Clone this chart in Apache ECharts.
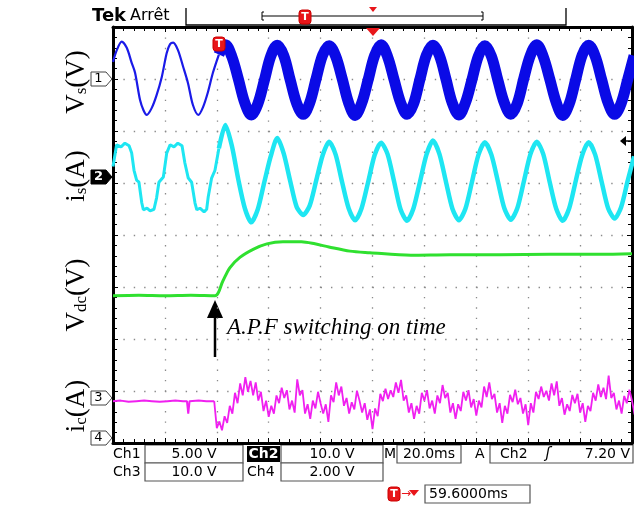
<!DOCTYPE html>
<html><head><meta charset="utf-8">
<script src="https://cdn.jsdelivr.net/npm/echarts@6/dist/echarts.min.js"></script>
<style>html,body{margin:0;padding:0;background:#fff}#c{width:640px;height:507px}</style>
</head><body><div id="c"></div>
<script>
// ---- Data (time in ms, values in screen divisions relative to each channel's ground marker) ----
// Ch1: source voltage Vs, before A.P.F switching on
const vsPreT = [0, 1.5, 3.35, 5.3, 7.2, 8.5, 10.4, 11.75, 13.0, 14.9, 16.8, 18.8, 20.7, 22.0, 23.2, 25.0, 27.0, 28.9, 30.8, 32.9, 34.7, 36.6, 38.5, 40.8];
const vsPreV = [0.33, 0.56, 0.72, 0.60, 0.31, 0.12, -0.40, -0.60, -0.69, -0.56, -0.31, 0.04, 0.50, 0.67, 0.70, 0.56, 0.24, -0.08, -0.50, -0.69, -0.54, -0.25, 0.12, 0.47];
// Ch1 after switching on (sampled every 2.5 ms from 40.8 ms)
const vsPostV = [0.47,
  0.66, 0.43, 0.00, -0.46, -0.69, -0.48, -0.03, 0.44,
  0.65, 0.45, -0.02, -0.47, -0.68, -0.46, 0.01, 0.46,
  0.64, 0.44, 0.01, -0.46, -0.70, -0.47, -0.02, 0.45,
  0.66, 0.43, -0.01, -0.45, -0.68, -0.48, 0.00, 0.46,
  0.65, 0.45, 0.00, -0.47, -0.69, -0.46, -0.02, 0.44,
  0.64, 0.44, -0.02, -0.46, -0.68, -0.47, 0.01, 0.45,
  0.66, 0.43, 0.00, -0.45, -0.70, -0.48, -0.01, 0.46,
  0.65, 0.44, -0.01, -0.46, -0.68, -0.47, -0.02, 0.45];
// Ch2: source current is
const isPreT = [0, 1.4, 3.1, 4.6, 6.2, 7.2, 8.1, 9.1, 10.0, 11.1, 11.7, 13.1, 14.3, 15.8, 16.8, 17.7, 19.4, 20.7, 22.0, 23.5, 25.0, 26.6, 27.7, 29.0, 30.3, 31.6, 32.3, 33.5, 35.1, 36.1, 36.7, 38.0, 39.3, 40.8];
const isPreV = [0.20, 0.62, 0.58, 0.65, 0.60, 0.46, 0.13, -0.06, -0.10, -0.50, -0.63, -0.60, -0.65, -0.62, -0.40, -0.10, 0.00, 0.46, 0.62, 0.58, 0.65, 0.60, 0.27, -0.02, -0.10, -0.50, -0.63, -0.60, -0.67, -0.62, -0.38, -0.02, 0.13, 0.55];
const isPostV = [0.55,
  1.00, 0.60, -0.05, -0.60, -0.87, -0.62, -0.10, 0.40,
  0.75, 0.45, -0.08, -0.58, -0.73, -0.55, -0.07, 0.42,
  0.68, 0.43, -0.10, -0.60, -0.83, -0.60, -0.10, 0.42,
  0.66, 0.44, -0.08, -0.62, -0.84, -0.60, -0.09, 0.43,
  0.70, 0.44, -0.09, -0.61, -0.83, -0.61, -0.10, 0.42,
  0.67, 0.43, -0.08, -0.60, -0.82, -0.60, -0.09, 0.43,
  0.68, 0.44, -0.10, -0.61, -0.84, -0.60, -0.08, 0.42,
  0.67, 0.43, -0.09, -0.60, -0.80, -0.58, -0.08, 0.40];
const postT0 = 40.8, postDt = 2.5;
// DC-link voltage Vdc
const vdcT = [0, 10, 20, 30, 39.3, 42.3, 45.0, 48.9, 54.2, 59.3, 65.5, 72.6, 77.8, 83.2, 91.3, 99.0, 114.8, 129.9, 149.1, 168.4, 187.7, 200];
const vdcV = [2.79, 2.80, 2.79, 2.80, 2.79, 3.07, 3.33, 3.53, 3.69, 3.79, 3.83, 3.83, 3.79, 3.73, 3.65, 3.62, 3.57, 3.58, 3.58, 3.59, 3.59, 3.60];
// Compensating current ic
const icPreT = [0, 3, 6, 9, 12, 15, 18, 21, 24, 27, 28.5, 29, 29.5, 33, 36, 39];
const icPreV = [-0.06, -0.05, -0.07, -0.06, -0.05, -0.06, -0.07, -0.06, -0.05, -0.06, -0.06, -0.30, -0.06, -0.05, -0.06, -0.06];
const icPostV = [-0.06,
 -0.58,-0.45,-0.62,-0.35,-0.48,-0.15,-0.30,0.10,-0.10,0.28,
 0.05,0.40,0.12,0.33,0.05,0.30,-0.05,0.12,-0.25,-0.05,
 -0.36,-0.15,-0.30,0.05,-0.10,0.20,0.00,0.15,-0.22,-0.05,
 -0.28,0.36,0.05,0.15,-0.30,-0.12,-0.40,-0.05,-0.20,0.12,
 -0.10,-0.30,-0.12,-0.46,0.05,-0.08,0.30,0.05,0.22,-0.15,
 0.00,-0.30,-0.08,-0.22,0.14,-0.05,-0.28,-0.10,-0.42,-0.22,
 -0.60,-0.20,-0.35,0.08,-0.06,0.18,-0.02,0.15,0.02,0.30,
 0.10,0.35,-0.05,0.05,-0.28,-0.10,-0.40,-0.15,-0.30,0.10,
 -0.05,0.15,-0.20,-0.05,-0.30,0.05,-0.10,0.25,0.00,0.10,
 -0.28,-0.10,-0.40,-0.12,-0.25,0.12,-0.05,0.15,-0.18,-0.02,
 -0.34,-0.05,-0.18,0.22,0.02,0.30,-0.02,0.08,-0.28,-0.10,
 -0.48,-0.15,-0.30,0.06,-0.08,0.16,-0.12,0.00,-0.30,-0.12,
 -0.52,-0.10,-0.28,0.12,-0.02,0.22,0.02,0.14,-0.05,0.28,
 0.05,0.32,-0.15,0.00,-0.32,-0.12,-0.25,0.06,-0.10,0.08,
 -0.28,-0.10,-0.46,-0.15,-0.25,0.10,-0.05,0.26,0.02,0.20,
 -0.02,0.43,0.00,0.10,-0.22,-0.05,-0.30,0.04,-0.10,0.16,
 -0.05,-0.32];
const icT0 = 39, icDt = 1;
// Readout texts
const readRow1 = ['Ch1', '5.00 V', 'Ch2', '10.0 V', 'M', '20.0ms', 'A', 'Ch2', '7.20 V'];
const readRow2 = ['Ch3', '10.0 V', 'Ch4', '2.00 V'];
const trigPos = '59.6000ms';

// ---- Build ----
const zip = (t, v) => t.map((x, i) => [x, v[i]]);
const grid = (t0, dt, v) => v.map((y, i) => [t0 + i * dt, y]);

const black = '#000';
const frameAxis = (pos) => ({
  position: pos, axisLine: {show: true, onZero: false, lineStyle: {color: black, width: 3}},
  axisTick: {show: true, inside: true, length: 5, lineStyle: {color: black, width: 1}},
  minorTick: {show: true, splitNumber: 5, length: 4, lineStyle: {color: black, width: 1}},
  axisLabel: {show: false}
});
const dotted = {show: true, lineStyle: {color: '#8a8a8a', width: 1.3, type: [1.4, 8.98]}};

const chY = (ground) => ({type: 'value', min: -ground, max: 8 - ground, show: false});

const lab = (txt, x, y) => ({
  type: 'text', x: x, y: y, rotation: Math.PI / 2,
  style: {text: txt, align: 'center', verticalAlign: 'middle', fill: black,
    rich: {
      m: {fontFamily: 'Liberation Serif', fontSize: 27, lineHeight: 30, verticalAlign: 'bottom', fill: black},
      s: {fontFamily: 'Liberation Serif', fontSize: 17, lineHeight: 10, verticalAlign: 'bottom', fill: black}
    }}
});
const chMark = (num, cy, filled) => ([
  {type: 'polygon', shape: {points: [[91, cy - 7], [106, cy - 7], [112, cy], [106, cy + 7], [91, cy + 7]]},
    style: {fill: filled ? black : '#fff', stroke: filled ? black : '#444', lineWidth: 1}},
  {type: 'text', x: 98.5, y: cy, style: {text: num, align: 'center', verticalAlign: 'middle',
    font: (filled ? 'bold ' : '') + '13px DejaVu Sans', fill: filled ? '#fff' : black}}
]);
const box = (x1, x2, y1, y2) => ({type: 'rect', shape: {x: x1, y: y1, width: x2 - x1, height: y2 - y1},
  style: {fill: '#fff', stroke: '#555', lineWidth: 1.2}});
const txt = (s, x, y, align, extra) => Object.assign({type: 'text', x: x, y: y,
  style: Object.assign({text: s, align: align || 'left', verticalAlign: 'middle', font: '14px DejaVu Sans', fill: black}, extra || {})});
const tIcon = (cx, cy) => ([
  {type: 'rect', shape: {x: cx - 6, y: cy - 7, width: 12, height: 14, r: 3}, style: {fill: '#e8161a', stroke: '#c00', lineWidth: 1}, z: 20},
  {type: 'text', x: cx, y: cy + 0.5, style: {text: 'T', align: 'center', verticalAlign: 'middle', font: 'bold 11px DejaVu Sans', fill: '#fff'}, z: 21}
]);

const graphics = [].concat(
  [
    {type: 'rect', shape: {x: 634, y: 20, width: 6, height: 424}, style: {fill: '#fff'}, z: 15},
    txt('Tek', 92, 16, 'left', {font: 'bold 18px DejaVu Sans', letterSpacing: -1}),
    txt('Arrêt', 130, 16, 'left', {font: '16px DejaVu Sans'}),
    {type: 'polyline', shape: {points: [[186, 8], [186, 25], [566, 25], [566, 8]]}, style: {stroke: black, lineWidth: 1.3, fill: null}},
    {type: 'polyline', shape: {points: [[264, 12], [262, 12], [262, 20], [264, 20]]}, style: {stroke: black, lineWidth: 1, fill: null}},
    {type: 'polyline', shape: {points: [[481, 12], [483, 12], [483, 20], [481, 20]]}, style: {stroke: black, lineWidth: 1, fill: null}},
    {type: 'line', shape: {x1: 262, y1: 16, x2: 483, y2: 16}, style: {stroke: black, lineWidth: 1.2}},
    {type: 'polygon', shape: {points: [[369, 7], [377, 7], [373, 12]]}, style: {fill: '#e8161a'}},
    {type: 'polygon', shape: {points: [[366, 28], [380, 28], [373, 36]]}, style: {fill: '#e8161a'}, z: 20}
  ],
  tIcon(305, 17),
  tIcon(219, 44),
  chMark('1', 79, false), chMark('2', 177, true), chMark('3', 398, false), chMark('4', 438, false),
  [
    {type: 'polygon', shape: {points: [[620, 141], [626, 136], [626, 146]]}, style: {fill: black}, z: 20},
    {type: 'line', shape: {x1: 624, y1: 141, x2: 632, y2: 141}, style: {stroke: black, lineWidth: 1.5}, z: 20},
    lab('{m|V}{s|s}{m|(V)}', 75, 82),
    lab('{m|i}{s|s}{m|(A)}', 75, 176),
    lab('{m|V}{s|dc}{m|(V)}', 75, 295),
    lab('{m|i}{s|c}{m|(A)}', 75, 406),
    {type: 'line', shape: {x1: 215, y1: 357, x2: 215, y2: 316}, style: {stroke: black, lineWidth: 2.5}},
    {type: 'polygon', shape: {points: [[207, 318], [223, 318], [215, 300]]}, style: {fill: black}},
    txt('A.P.F switching on time', 227, 328, 'left', {font: 'italic 23px Liberation Serif'}),
    // readouts row 1
    txt(readRow1[0], 113, 454),
    box(145, 243, 445, 463), txt(readRow1[1], 194, 454, 'center'),
    {type: 'rect', shape: {x: 247, y: 446, width: 33, height: 16}, style: {fill: black}},
    txt(readRow1[2], 263.5, 454, 'center', {fill: '#fff', font: 'bold 14px DejaVu Sans'}),
    box(281, 383, 445, 463), txt(readRow1[3], 332, 454, 'center'),
    txt(readRow1[4], 384, 454),
    box(397, 461, 445, 463), txt(readRow1[5], 429, 454, 'center'),
    txt(readRow1[6], 475, 454),
    box(490, 633, 445, 463), txt(readRow1[7], 500, 454),
    txt('ʃ', 548, 454, 'center', {font: 'italic 15px DejaVu Sans'}),
    txt(readRow1[8], 630, 454, 'right'),
    // row 2
    txt(readRow2[0], 113, 472),
    box(145, 243, 463, 481), txt(readRow2[1], 194, 472, 'center'),
    txt(readRow2[2], 247, 472),
    box(281, 383, 463, 481), txt(readRow2[3], 332, 472, 'center'),
    // row 3
    txt('→', 401, 494, 'left', {fill: '#e8161a', font: '12px DejaVu Sans'}),
    {type: 'polygon', shape: {points: [[409, 490], [419, 490], [414, 496]]}, style: {fill: '#e8161a'}},
    box(425, 530, 485, 503), txt(trigPos, 429, 494)
  ],
  tIcon(394, 494)
);

const chart = echarts.init(document.getElementById('c'));
chart.setOption({
  animation: false,
  backgroundColor: '#fff',
  grid: {left: 113, top: 27, width: 519, height: 416, containLabel: false},
  xAxis: [
    Object.assign({type: 'value', min: 0, max: 200, interval: 20, splitLine: dotted}, frameAxis('bottom')),
    Object.assign({type: 'value', min: 0, max: 200, interval: 20, splitLine: {show: false}}, frameAxis('top'))
  ],
  yAxis: [
    Object.assign({type: 'value', min: 0, max: 8, interval: 1, splitLine: dotted}, frameAxis('left')),
    Object.assign({type: 'value', min: 0, max: 8, interval: 1, splitLine: {show: false}}, frameAxis('right')),
    chY(7.0),    // Ch1 ground
    chY(5.115),  // Ch2 ground
    chY(0.865),  // Ch3 ground
    chY(0.04)    // Ch4 ground
  ],
  series: [
    {type: 'line', yAxisIndex: 2, data: zip(vsPreT, vsPreV), showSymbol: false, smooth: 0.3,
      lineStyle: {color: '#1a1ae8', width: 2.2}, z: 3},
    {type: 'line', yAxisIndex: 2, data: grid(postT0, postDt, vsPostV), showSymbol: false, smooth: 0.35,
      lineStyle: {color: '#0a0ae6', width: 11}, z: 3},
    {type: 'line', yAxisIndex: 3, data: zip(isPreT, isPreV), showSymbol: false,
      lineStyle: {color: '#1ee6f2', width: 3}, z: 3},
    {type: 'line', yAxisIndex: 3, data: grid(postT0, postDt, isPostV), showSymbol: false, smooth: 0.25,
      lineStyle: {color: '#1ee6f2', width: 4.5}, z: 3},
    {type: 'line', yAxisIndex: 5, data: zip(vdcT, vdcV), showSymbol: false, smooth: 0.3,
      lineStyle: {color: '#2fe02f', width: 3}, z: 3},
    {type: 'line', yAxisIndex: 4, data: zip(icPreT, icPreV), showSymbol: false,
      lineStyle: {color: '#f020f0', width: 2}, z: 3},
    {type: 'line', yAxisIndex: 4, data: grid(icT0, icDt, icPostV), showSymbol: false,
      lineStyle: {color: '#f020f0', width: 1.8}, z: 3}
  ],
  graphic: graphics
});
</script></body></html>
